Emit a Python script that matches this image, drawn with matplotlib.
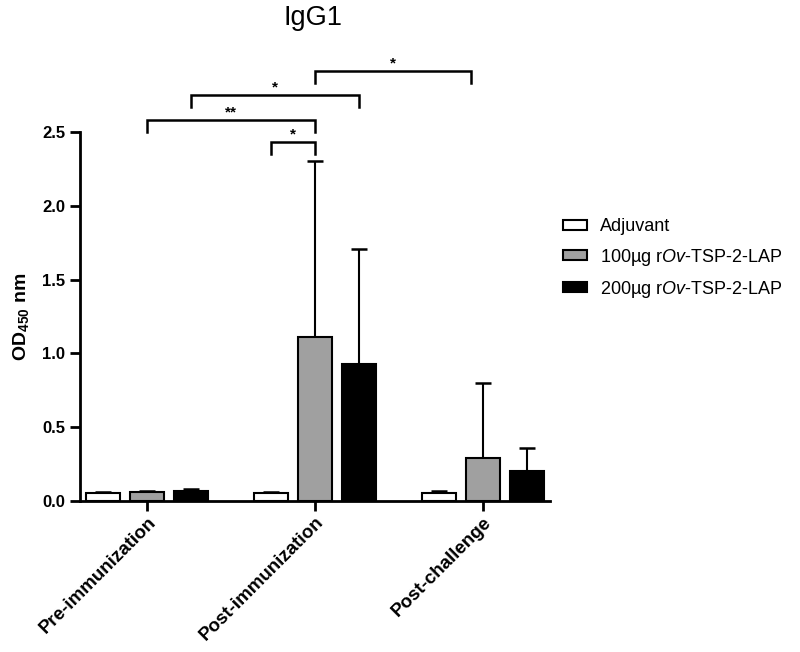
import matplotlib
matplotlib.use("Agg")
import matplotlib.pyplot as plt
import numpy as np

plt.rcParams['font.family'] = ['Liberation Sans', 'DejaVu Sans']
plt.rcParams['mathtext.fontset'] = 'custom'
plt.rcParams['mathtext.rm'] = 'Liberation Sans'
plt.rcParams['mathtext.bf'] = 'Liberation Sans:bold'
plt.rcParams['mathtext.it'] = 'Liberation Sans:italic'

categories = ["Pre-immunization", "Post-immunization", "Post-challenge"]
series_names = ["Adjuvant", "100µg r$\\mathit{Ov}$-TSP-2-LAP", "200µg r$\\mathit{Ov}$-TSP-2-LAP"]
adjuvant_mean = [0.052, 0.052, 0.052]
adjuvant_sd = [0.012, 0.011, 0.016]
dose100_mean = [0.059, 1.11, 0.29]
dose100_sd = [0.011, 1.19, 0.51]
dose200_mean = [0.070, 0.93, 0.20]
dose200_sd = [0.014, 0.78, 0.16]
yticks = [0.0, 0.5, 1.0, 1.5, 2.0, 2.5]

# significance annotations: (x_start, x_end, y, label)
sig = [
    (1.0, 1.93, 2.91, "*"),
    (0.263, 1.263, 2.75, "*"),
    (0.0, 1.0, 2.58, "**"),
    (0.737, 1.0, 2.43, "*"),
]

fig = plt.figure(figsize=(8, 6.52), dpi=100)
ax = fig.add_axes([0.1, 0.2316, 0.5875, 0.566])

x = np.arange(len(categories))
off = 0.263
w = 0.204
colors = ["white", "#a0a0a0", "black"]
means = [adjuvant_mean, dose100_mean, dose200_mean]
sds = [adjuvant_sd, dose100_sd, dose200_sd]
for i, (m, s, c, name) in enumerate(zip(means, sds, colors, series_names)):
    xi = x + (i - 1) * off
    ax.errorbar(xi, m, yerr=[np.zeros(len(m)), s], fmt='none', ecolor='black',
                elinewidth=1.5, capsize=6, capthick=1.8, zorder=1)
    ax.bar(xi, m, width=w, color=c, edgecolor='black', linewidth=1.5,
           label=name, zorder=2)

ax.set_xlim(-0.4, 2.4)
ax.set_ylim(0, 2.5)
ax.set_yticks(yticks)
ax.set_yticklabels([f"{t:.1f}" for t in yticks], fontsize=12, fontweight='bold')
ax.set_xticks(x)
ax.set_xticklabels(categories, fontsize=13.5, fontweight='bold', rotation=45,
                   ha='right', va='top', rotation_mode='anchor')
ax.tick_params(axis='both', width=2, length=7, direction='out')
ax.tick_params(axis='x', pad=2)
for sp in ['top', 'right']:
    ax.spines[sp].set_visible(False)
for sp in ['left', 'bottom']:
    ax.spines[sp].set_linewidth(2)
ax.set_ylabel("OD$_{\\mathbf{450}}$ nm", fontsize=14, fontweight='bold', labelpad=8)

drop = 0.08
for x0, x1, y, lab in sig:
    ax.plot([x0, x0, x1, x1], [y - drop, y, y, y - drop], color='black', lw=1.8,
            clip_on=False, solid_joinstyle='miter')
    ax.text((x0 + x1) / 2, y + 0.005, lab, ha='center', va='bottom', fontsize=11,
            fontweight='bold')

fig.text(0.391, 0.972, "IgG1", ha='center', va='center', fontsize=19.5)

leg = ax.legend(loc='upper left', bbox_to_anchor=(0.683, 0.69), bbox_transform=fig.transFigure,
                frameon=False, fontsize=13, handlelength=1.35, handleheight=0.5,
                handletextpad=0.7, labelspacing=0.62)
for p in leg.get_patches():
    p.set_linewidth(1.5)

fig.savefig("out.png", dpi=100)
